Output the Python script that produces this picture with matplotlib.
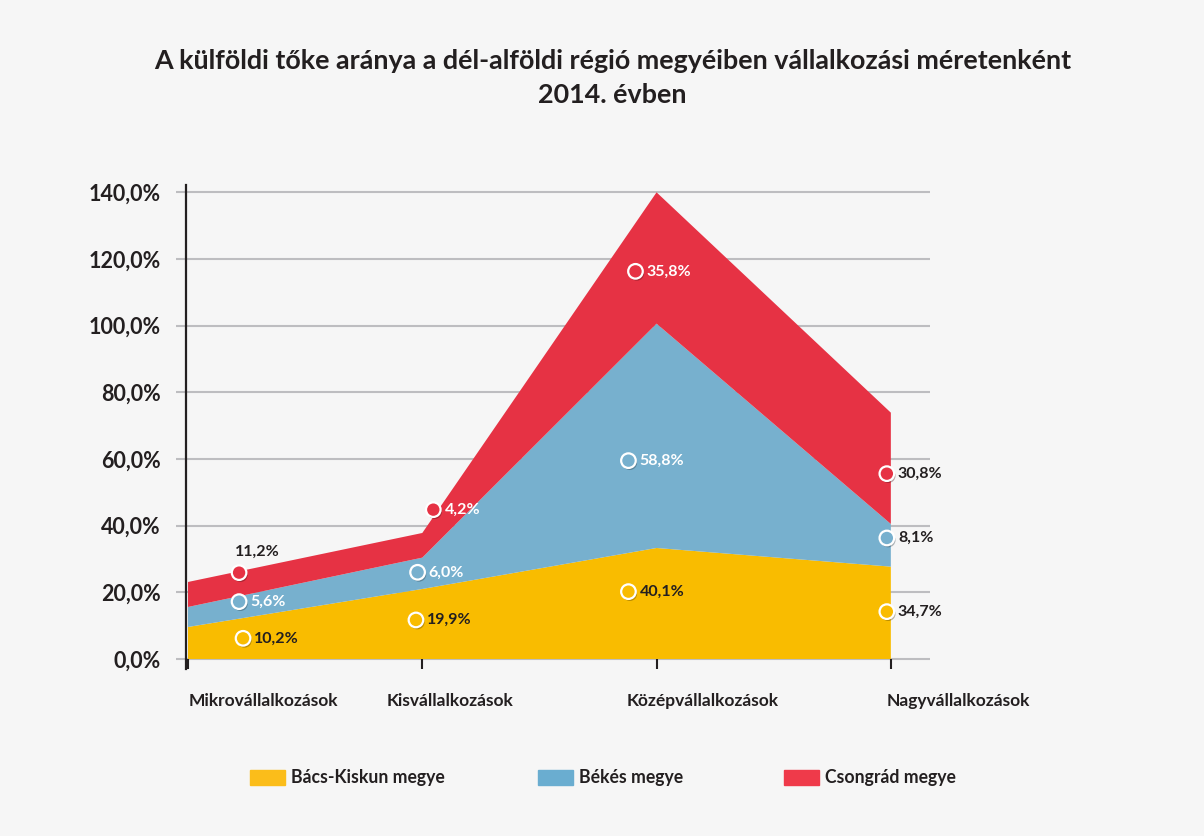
import matplotlib.pyplot as plt
import matplotlib.patheffects as pe
from matplotlib.patches import Rectangle

plt.rcParams['font.family'] = ['Lato', 'DejaVu Sans']

# adatok
categories = ['Mikrovállalkozások', 'Kisvállalkozások', 'Középvállalkozások', 'Nagyvállalkozások']
series_names = ['Bács-Kiskun megye', 'Békés megye', 'Csongrád megye']
colors = ['#f9bc00', '#77b0ce', '#e63244']
legend_colors = ['#fbbd1a', '#6aadd0', '#ef3a4a']

# feliratokban szereplő értékek
bacs_kiskun = [10.2, 19.9, 40.1, 34.7]
bekes = [5.6, 6.0, 58.8, 8.1]
csongrad = [11.2, 4.2, 35.8, 30.8]

# a rajzolt sávok vastagsága
bacs_area = [9.6, 21.0, 33.3, 27.7]
bekes_area = [6.0, 9.4, 67.3, 12.8]
csongrad_area = [7.5, 7.4, 39.4, 33.4]

# jelölők magassága
bacs_marker = [6.2, 11.7, 20.2, 14.2]
bekes_marker = [17.2, 26.0, 59.5, 36.3]
csongrad_marker = [25.9, 44.8, 116.3, 55.6]

yticks = [0, 20, 40, 60, 80, 100, 120, 140]

dark = '#231f20'
grid_col = '#bdbdc0'


def fmt(v):
    return f"{v:.1f}".replace('.', ',') + '%'


fig = plt.figure(figsize=(12.04, 8.36), dpi=100, facecolor='#f6f6f6')
ax = fig.add_axes([0.1545, 0.1998, 0.6179, 0.5789])
ax.set_facecolor('none')

x = list(range(len(categories)))
ax.stackplot(x, bacs_area, bekes_area, csongrad_area, colors=colors, linewidth=0, zorder=2)

# rács
for v in yticks:
    ax.axhline(v, color=grid_col, lw=1.5, zorder=1)

ax.set_xlim(-0.0085, 3.167)
ax.set_ylim(-3.0, 142.2)

for s in ['top', 'right', 'bottom']:
    ax.spines[s].set_visible(False)
ax.spines['left'].set_color(dark)
ax.spines['left'].set_linewidth(1.6)
ax.spines['left'].set_zorder(5)

ax.set_yticks(yticks)
ax.set_yticklabels([fmt(v) for v in yticks], fontsize=15.5, fontweight='bold', color=dark)
ax.tick_params(axis='y', direction='out', length=7.2, width=1.5, color=grid_col, pad=11)

ax.set_xticks(x)
ax.set_xticklabels([])
ax.tick_params(axis='x', direction='in', length=7.2, width=1.5, color=dark)

# kategória feliratok
label_shift = [0.004, -0.151, -0.126, -0.02]
for i, c in enumerate(categories):
    ax.text(i + label_shift[i], -12.5, c, ha='left', va='center', fontsize=12.5,
            fontweight='bold', color=dark)

# jelölők és értékfeliratok
marker_sets = [bacs_marker, bekes_marker, csongrad_marker]
value_sets = [bacs_kiskun, bekes, csongrad]
offsets = [[0.235, -0.027, -0.12, -0.017],
           [0.218, -0.02, -0.12, -0.017],
           [0.218, 0.047, -0.09, -0.017]]
text_cols = [[dark, dark, dark, dark],
             ['white', 'white', 'white', dark],
             [dark, 'white', 'white', dark]]
shadow = [pe.SimplePatchShadow(offset=(1, -1.5), alpha=0.35), pe.Normal()]

for k in range(3):
    for i in range(len(categories)):
        mx = i + offsets[k][i]
        my = marker_sets[k][i]
        ax.plot(mx, my, 'o', ms=10.5, mfc=colors[k], mec='white', mew=1.6,
                zorder=6, path_effects=shadow)
        if k == 2 and i == 0:
            ax.annotate(fmt(value_sets[k][i]), (mx, my), xytext=(13, 15),
                        textcoords='offset points', ha='center', va='center',
                        fontsize=11.5, fontweight='bold', color=text_cols[k][i], zorder=7)
        else:
            ax.annotate(fmt(value_sets[k][i]), (mx, my), xytext=(8, 0),
                        textcoords='offset points', ha='left', va='center',
                        fontsize=11.5, fontweight='bold', color=text_cols[k][i], zorder=7)

# cím
fig.text(0.5088, 0.9067,
         'A külföldi tőke aránya a dél-alföldi régió megyéiben vállalkozási méretenként\n2014. évben',
         ha='center', va='center', fontsize=19.4, fontweight='bold', color=dark, linespacing=1.5)

# jelmagyarázat
W, H = 1204, 836
leg_x = [250, 538, 784]
for k in range(3):
    fig.patches.append(Rectangle((leg_x[k] / W, 1 - 785 / H), 35 / W, 15 / H,
                                 transform=fig.transFigure, color=legend_colors[k]))
    fig.text((leg_x[k] + 41) / W, 1 - 777 / H, series_names[k], ha='left', va='center',
             fontsize=12.7, fontweight='bold', color=dark)

fig.savefig('out.png', dpi=100, facecolor=fig.get_facecolor())
